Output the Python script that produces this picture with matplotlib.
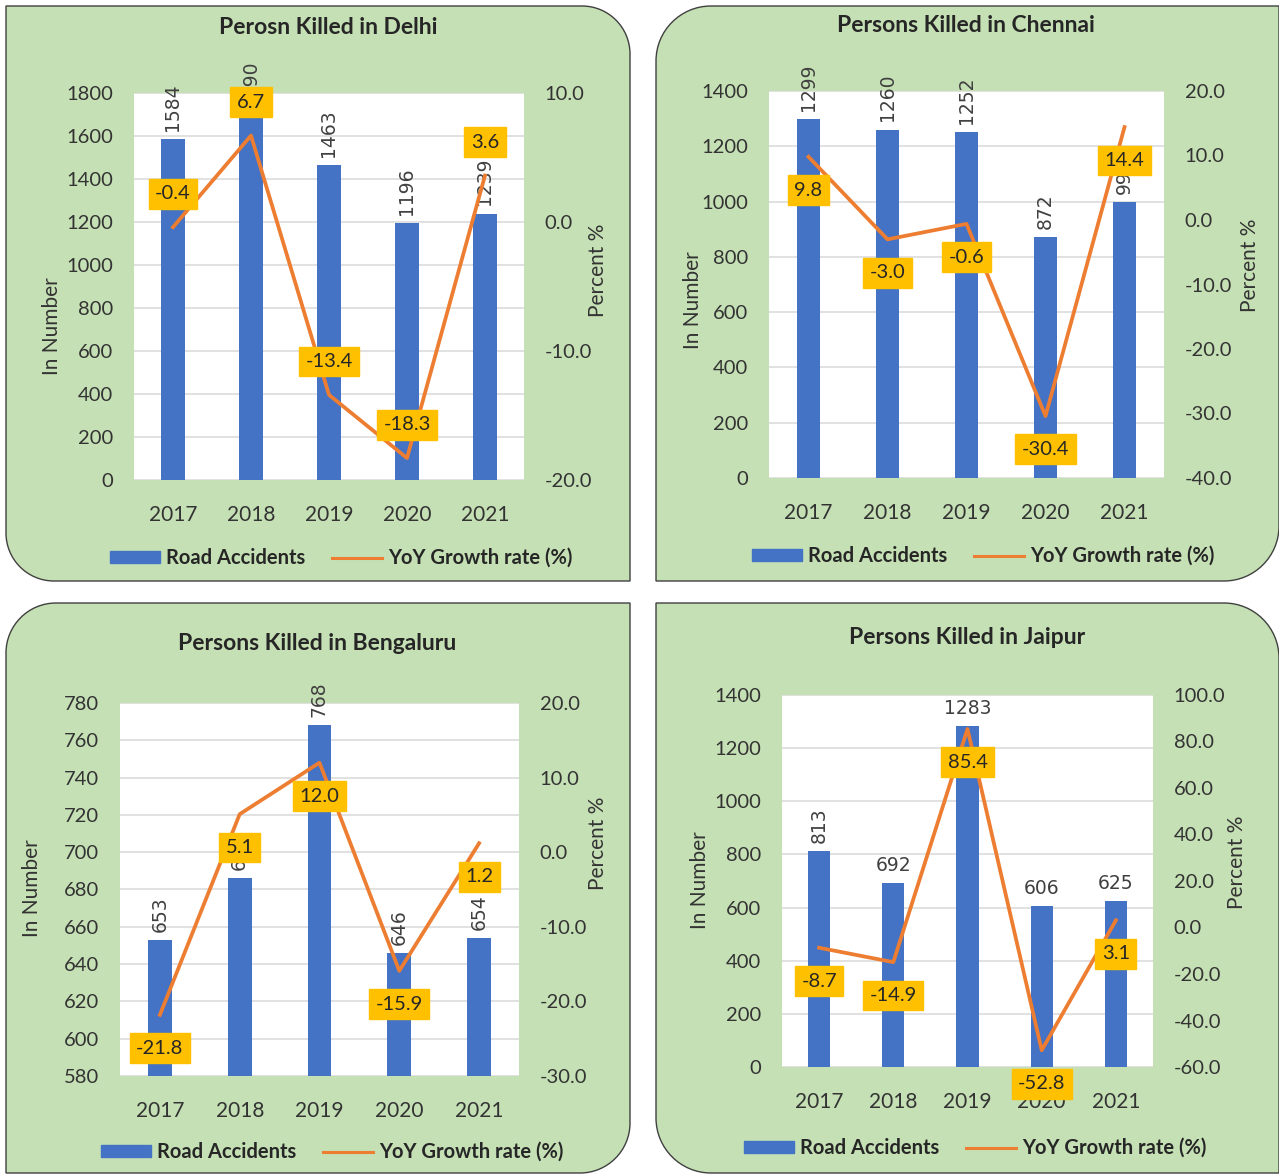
import matplotlib
matplotlib.use("Agg")
import matplotlib.pyplot as plt
from matplotlib.path import Path
from matplotlib.patches import PathPatch, Patch
from matplotlib.lines import Line2D
from matplotlib.transforms import Affine2D

W, H = 1279, 1174

years = ["2017", "2018", "2019", "2020", "2021"]

delhi_killed = [1584, 1690, 1463, 1196, 1239]
delhi_growth = [-0.4, 6.7, -13.4, -18.3, 3.6]
chennai_killed = [1299, 1260, 1252, 872, 998]
chennai_growth = [9.8, -3.0, -0.6, -30.4, 14.4]
bengaluru_killed = [653, 686, 768, 646, 654]
bengaluru_growth = [-21.8, 5.1, 12.0, -15.9, 1.2]
jaipur_killed = [813, 692, 1283, 606, 625]
jaipur_growth = [-8.7, -14.9, 85.4, -52.8, 3.1]

BAR = "#4472C4"
LINE = "#ED7D31"
BOX = "#FFC000"
PANEL = "#C5E0B4"
TXT = "#262626"
FONT = "Lato"

fig = plt.figure(figsize=(W / 100, H / 100), dpi=100)
fig.patch.set_facecolor("white")
px = Affine2D().scale(1 / W, -1 / H).translate(0, 1) + fig.transFigure


def panel_path(x0, y0, x1, y1, r, corners):
    v, c = [], []
    tl, tr, br, bl = [(r if s in corners else 0) for s in ("tl", "tr", "br", "bl")]
    k = 0.5523
    v.append((x0 + tl, y0)); c.append(Path.MOVETO)
    v.append((x1 - tr, y0)); c.append(Path.LINETO)
    if tr:
        v += [(x1 - tr + k * tr, y0), (x1, y0 + tr - k * tr), (x1, y0 + tr)]; c += [Path.CURVE4] * 3
    v.append((x1, y1 - br)); c.append(Path.LINETO)
    if br:
        v += [(x1, y1 - br + k * br), (x1 - br + k * br, y1), (x1 - br, y1)]; c += [Path.CURVE4] * 3
    v.append((x0 + bl, y1)); c.append(Path.LINETO)
    if bl:
        v += [(x0 + bl - k * bl, y1), (x0, y1 - bl + k * bl), (x0, y1 - bl)]; c += [Path.CURVE4] * 3
    v.append((x0, y0 + tl)); c.append(Path.LINETO)
    if tl:
        v += [(x0, y0 + tl - k * tl), (x0 + tl - k * tl, y0), (x0 + tl, y0)]; c += [Path.CURVE4] * 3
    v.append((x0 + tl, y0)); c.append(Path.CLOSEPOLY)
    return Path(v, c)


def draw_panel(p, killed, growth, title):
    patch = PathPatch(panel_path(*p["box"], p["r"], p["corners"]), facecolor=PANEL,
                      edgecolor="#404040", lw=1.0, transform=px, zorder=-5)
    fig.add_artist(patch)

    x0, y0, x1, y1 = p["plot"]
    ax = fig.add_axes([x0 / W, 1 - y1 / H, (x1 - x0) / W, (y1 - y0) / H])
    ax.set_facecolor("white")
    xs = list(range(len(years)))
    ax.bar(xs, killed, width=0.3, color=BAR, zorder=2)
    ax.set_xlim(-0.5, len(years) - 0.5)
    ax.set_ylim(p["ylim"])
    ax.set_yticks(p["yticks"])
    ax.set_xticks(xs)
    ax.set_xticklabels(years)
    ax.grid(axis="y", color="#DCDCDC", lw=1.2, zorder=0)
    ax.set_axisbelow(True)
    for s in ax.spines.values():
        s.set_visible(False)
    ax.tick_params(axis="both", length=0, labelsize=14.5, labelcolor="#333333")
    ax.tick_params(axis="x", pad=18, labelsize=15)
    ax.tick_params(axis="y", pad=15)
    for t in ax.get_xticklabels() + ax.get_yticklabels():
        t.set_fontfamily(FONT)
    for i, val in enumerate(killed):
        rot = p["rot"][i]
        ax.annotate(str(val), (i, val), xytext=(0, 6), textcoords="offset points",
                    ha="center", va="bottom", rotation=rot, fontsize=13.5,
                    family="DejaVu Sans", color="#404040", zorder=3,
                    annotation_clip=False)

    ax2 = ax.twinx()
    ax2.plot(xs, growth, color=LINE, lw=2.7, zorder=4)
    ax2.set_ylim(p["ylim2"])
    ax2.set_yticks(p["yticks2"])
    ax2.set_yticklabels([f"{t:.1f}" for t in p["yticks2"]])
    for s in ax2.spines.values():
        s.set_visible(False)
    ax2.tick_params(axis="y", length=0, labelsize=14.5, labelcolor="#333333", pad=15)
    for t in ax2.get_yticklabels():
        t.set_fontfamily(FONT)
    for i, g in enumerate(growth):
        ax2.annotate(f"{g:.1f}", (i, g), xytext=(0, p["dy"]), textcoords="offset points",
                     ha="center", va="center", fontsize=14.5, family=FONT, color=TXT,
                     bbox=dict(boxstyle="square,pad=0.32", fc=BOX, ec=BOX), zorder=5)

    tx, ty = p["title"]
    fig.text(tx / W, 1 - ty / H, title, ha="center", va="center", fontsize=16.5,
             fontweight="bold", family=FONT, color=TXT)
    lx, ly = p["ylab"]
    fig.text(lx / W, 1 - ly / H, "In Number", ha="center", va="center", rotation=90,
             fontsize=15, family=FONT, color="#333333")
    rx, ry = p["rlab"]
    fig.text(rx / W, 1 - ry / H, "Percent %", ha="center", va="center", rotation=90,
             fontsize=15, family=FONT, color="#333333")

    handles = [Patch(color=BAR, label="Road Accidents"),
               Line2D([], [], color=LINE, lw=2.2, label="YoY Growth rate (%)")]
    gx, gy = p["legend"]
    leg = ax.legend(handles=handles, loc="center", bbox_to_anchor=(gx / W, 1 - gy / H),
                    bbox_transform=fig.transFigure, ncol=2, frameon=False,
                    handlelength=2.5, handleheight=0.5, handletextpad=0.3,
                    columnspacing=1.3, prop={"family": FONT, "size": 14.5, "weight": "bold"})
    for t in leg.get_texts():
        t.set_color(TXT)


panels = [
    dict(box=(6, 6, 630, 581), r=48, corners=("tr", "bl"), plot=(134, 93, 524, 480),
         ylim=(0, 1800), yticks=range(0, 1801, 200), ylim2=(-20, 10), yticks2=[-20, -10, 0, 10],
         dy=24, rot=[90] * 5, title=(328, 27), ylab=(52, 326), rlab=(598, 270), legend=(341, 558)),
    dict(box=(656, 6, 1279, 581), r=55, corners=("tl", "br"), plot=(769, 91, 1164, 478),
         ylim=(0, 1400), yticks=range(0, 1401, 200), ylim2=(-40, 20), yticks2=range(-40, 21, 10),
         dy=-24, rot=[90] * 5, title=(966, 25), ylab=(693, 300), rlab=(1250, 265), legend=(983, 556)),
    dict(box=(6, 603, 630, 1173), r=50, corners=("tl", "br"), plot=(120, 703, 519, 1076),
         ylim=(580, 780), yticks=range(580, 781, 20), ylim2=(-30, 20), yticks2=range(-30, 21, 10),
         dy=-24, rot=[90] * 5, title=(317, 643), ylab=(32, 888), rlab=(598, 843), legend=(332, 1152)),
    dict(box=(656, 603, 1279, 1173), r=55, corners=("tr", "bl"), plot=(782, 695, 1153, 1067),
         ylim=(0, 1400), yticks=range(0, 1401, 200), ylim2=(-60, 100), yticks2=range(-60, 101, 20),
         dy=-24, rot=[90, 0, 0, 0, 0], title=(967, 637), ylab=(700, 880), rlab=(1237, 862), legend=(975, 1148)),
]

draw_panel(panels[0], delhi_killed, delhi_growth, "Perosn Killed in Delhi")
draw_panel(panels[1], chennai_killed, chennai_growth, "Persons Killed in Chennai")
draw_panel(panels[2], bengaluru_killed, bengaluru_growth, "Persons Killed in Bengaluru")
draw_panel(panels[3], jaipur_killed, jaipur_growth, "Persons Killed in Jaipur")

fig.savefig("out.png", dpi=100, facecolor="white")
